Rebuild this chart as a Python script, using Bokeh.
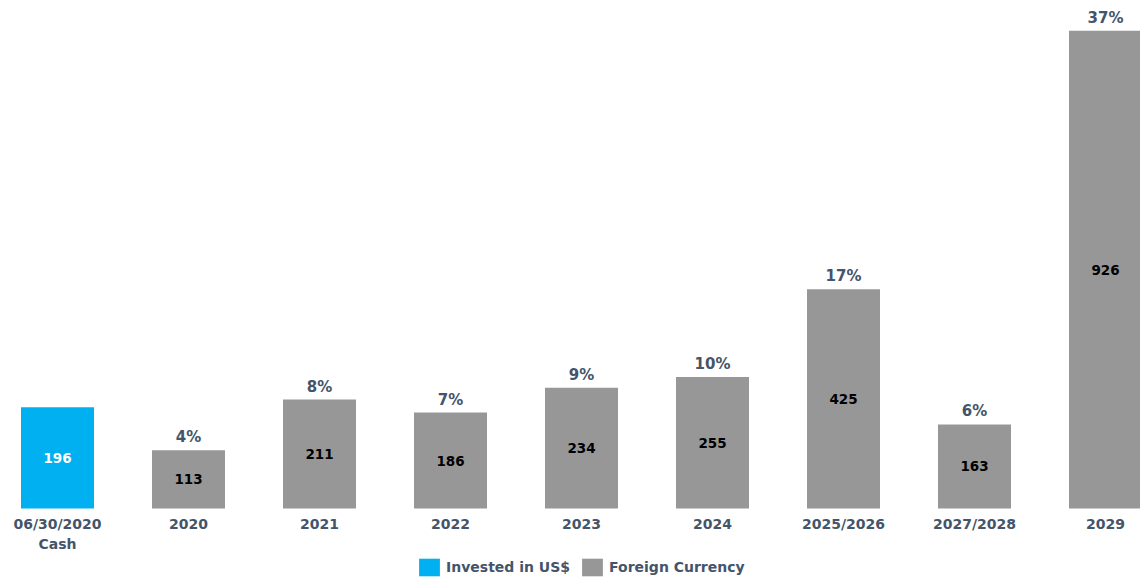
from bokeh.plotting import figure
from bokeh.models import ColumnDataSource, Range1d, Legend, LegendItem
from bokeh.core.properties import value
from bokeh.embed import file_html
from bokeh.resources import INLINE

categories = ["06/30/2020\nCash", "2020", "2021", "2022", "2023", "2024",
              "2025/2026", "2027/2028", "2029"]
amounts = [196, 113, 211, 186, 234, 255, 425, 163, 926]
shares = ["", "4%", "8%", "7%", "9%", "10%", "17%", "6%", "37%"]
series = ["Invested in US$"] + ["Foreign Currency"] * 8

BLUE = "#00B0F0"
GRAY = "#979797"
SLATE = "#44546A"
FONT = value("DejaVu Sans")

xs = list(range(len(categories)))
colors = [BLUE if s == "Invested in US$" else GRAY for s in series]
val_colors = ["white" if s == "Invested in US$" else "black" for s in series]
line1 = [c.split("\n")[0] for c in categories]
line2 = [c.split("\n")[1] if "\n" in c else "" for c in categories]

src = ColumnDataSource(dict(
    x=xs, top=amounts, mid=[a / 2 for a in amounts], l1=line1, l2=line2,
    share=shares, amt=[str(a) for a in amounts], color=colors,
    vcolor=val_colors, zero=[0] * len(xs)))

W, H = 1140, 578
px_per_cat = 131.0
x0 = -57 / px_per_cat
yscale = 0.516
y0 = -70 / yscale

p = figure(width=W, height=H, output_backend="svg", toolbar_location=None,
           x_range=Range1d(x0, x0 + W / px_per_cat),
           y_range=Range1d(y0, y0 + H / yscale),
           min_border=0, outline_line_color=None)
p.axis.visible = False
p.grid.visible = False
p.background_fill_color = "white"

r = p.vbar(x="x", top="top", bottom=0, width=73 / px_per_cat, source=src,
           fill_color="color", line_color=None)

p.text(x="x", y="mid", text="amt", source=src, text_align="center",
       text_baseline="middle", text_color="vcolor", text_font=FONT,
       text_font_style="bold", text_font_size="13.5px")
p.text(x="x", y="top", text="share", source=src, text_align="center",
       text_baseline="alphabetic", y_offset=-13, text_color=SLATE, text_font=FONT,
       text_font_style="bold", text_font_size="15px")
for col, off in (("l1", 15), ("l2", 35)):
    p.text(x="x", y="zero", text=col, source=src, text_align="center",
           text_baseline="alphabetic", y_offset=off, text_color=SLATE,
           text_font=FONT, text_font_style="bold", text_font_size="14px")

legend = Legend(items=[LegendItem(label="Invested in US$", renderers=[r], index=0),
                       LegendItem(label="Foreign Currency", renderers=[r], index=1)],
                orientation="horizontal", location=(416, 0),
                background_fill_alpha=0, border_line_color=None,
                padding=0, margin=0, spacing=9, glyph_width=26, glyph_height=22,
                label_standoff=4, label_text_font="DejaVu Sans",
                label_text_font_style="bold", label_text_font_size="14px",
                label_text_color=SLATE, label_height=22)
p.add_layout(legend, "center")

open("out.html", "w").write(file_html(p, INLINE))
